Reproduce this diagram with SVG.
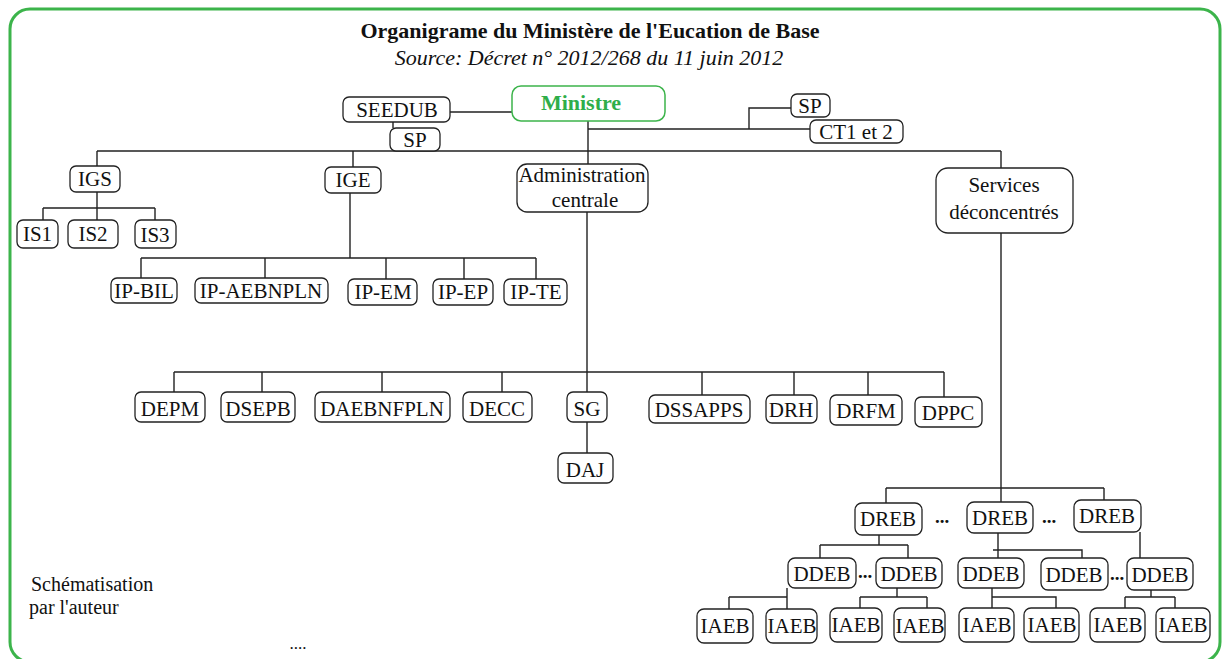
<svg xmlns="http://www.w3.org/2000/svg" width="1223" height="659" viewBox="0 0 1223 659">
<style>
text{font-family:'Liberation Serif','Times New Roman','DejaVu Serif',serif;fill:#111}
.b{fill:#fff;stroke:#222;stroke-width:1.3}
.t{font-size:21px;text-anchor:middle}
.c{fill:none;stroke:#222;stroke-width:1.4}
.d{font-size:19px;font-weight:bold;text-anchor:middle}
</style>
<rect x="0" y="0" width="1223" height="659" fill="#fff"/>
<rect x="10" y="9" width="1210" height="653" rx="20" fill="none" stroke="#3cb44b" stroke-width="3"/>
<text x="590" y="38" font-size="22" font-weight="bold" text-anchor="middle">Organigrame du Ministère de l'Eucation de Base</text>
<text x="589" y="65" font-size="22" font-style="italic" text-anchor="middle">Source: Décret n° 2012/268 du 11 juin 2012</text>
<g id="connectors" class="c">
<path d="M450 112H512M393 122V128M588 121V164M97 151H1001M588 129H810M749 129V108H791"/>
<path d="M97 151V166M353 151V167M1001 151V168"/>
<path d="M97 192V208M43 208H155M43 208V220M97 208V220M155 208V220"/>
<path d="M350 193V258M141 258H536M141 258V278M265 258V278M386 258V279M464 258V279M536 258V279"/>
<path d="M587 212V372M174 372H944M174 372V392M262 372V392M382 372V392M502 372V392M587 372V392M702 372V395M794 372V395M868 372V395M944 372V397M587 422V453"/>
<path d="M1001 233V488M886 488H1104M886 488V503M1001 488V502M1104 488V500"/>
<path d="M879 535V545M820 545H908M820 545V558M908 545V558M998 533V558M993 550H1082V558M1140 532V558"/>
<path d="M729 597H787M787 588V609M729 597V609M897 588V597M860 597H927M860 597V608M927 597V608M992 588V609M992 597H1056V608M1151 590V597M1125 597H1175M1125 597V609M1175 597V609"/>
</g>
<g id="ministre"><rect x="512" y="86" width="153" height="35" rx="9" fill="#fff" stroke="#3cb44b" stroke-width="1.5"/><text x="581" y="110" font-size="22" font-weight="bold" text-anchor="middle" style="fill:#2fae4a">Ministre</text></g>
<g id="seedub"><rect class="b" x="343" y="97" width="107" height="25" rx="6"/><text class="t" x="397" y="117">SEEDUB</text></g>
<g id="sp1"><rect class="b" x="390" y="128" width="50" height="23" rx="6"/><text class="t" x="415" y="147">SP</text></g>
<g id="sp2"><rect class="b" x="791" y="94" width="39" height="23" rx="6"/><text class="t" x="810" y="113">SP</text></g>
<g id="ct"><rect class="b" x="810" y="120" width="93" height="23" rx="6"/><text class="t" x="856" y="139">CT1 et 2</text></g>
<g id="igs"><rect class="b" x="70" y="166" width="50" height="26" rx="6"/><text class="t" x="95" y="186">IGS</text></g>
<g id="ige"><rect class="b" x="325" y="167" width="56" height="26" rx="6"/><text class="t" x="353" y="187">IGE</text></g>
<g id="admin"><rect class="b" x="517" y="164" width="131" height="48" rx="10"/><text class="t" x="582" y="182">Administration</text><text class="t" x="585" y="207">centrale</text></g>
<g id="services"><rect class="b" x="936" y="168" width="137" height="65" rx="12"/><text class="t" x="1004" y="192">Services</text><text class="t" x="1004" y="219">déconcentrés</text></g>
<g id="is1"><rect class="b" x="17" y="220" width="41" height="28" rx="6"/><text class="t" x="37.5" y="241">IS1</text></g>
<g id="is2"><rect class="b" x="68" y="220" width="50" height="28" rx="6"/><text class="t" x="93" y="241">IS2</text></g>
<g id="is3"><rect class="b" x="135" y="220" width="41" height="28" rx="6"/><text class="t" x="155" y="242">IS3</text></g>
<g id="ipbil"><rect class="b" x="111" y="278" width="66" height="25" rx="6"/><text class="t" x="144" y="298">IP-BIL</text></g>
<g id="ipaeb"><rect class="b" x="195" y="278" width="133" height="25" rx="6"/><text class="t" x="261" y="298">IP-AEBNPLN</text></g>
<g id="ipem"><rect class="b" x="348" y="279" width="69" height="26" rx="6"/><text class="t" x="383" y="299">IP-EM</text></g>
<g id="ipep"><rect class="b" x="433" y="279" width="60" height="26" rx="6"/><text class="t" x="463" y="299">IP-EP</text></g>
<g id="ipte"><rect class="b" x="504" y="279" width="63" height="26" rx="6"/><text class="t" x="536" y="299">IP-TE</text></g>
<g id="depm"><rect class="b" x="135" y="392" width="70" height="30" rx="6"/><text class="t" x="170" y="416">DEPM</text></g>
<g id="dsepb"><rect class="b" x="221" y="392" width="74" height="30" rx="6"/><text class="t" x="258" y="416">DSEPB</text></g>
<g id="daeb"><rect class="b" x="315" y="392" width="135" height="30" rx="6"/><text class="t" x="382" y="416">DAEBNFPLN</text></g>
<g id="decc"><rect class="b" x="463" y="392" width="69" height="30" rx="6"/><text class="t" x="497" y="416">DECC</text></g>
<g id="sg"><rect class="b" x="567" y="392" width="40" height="30" rx="6"/><text class="t" x="587" y="416">SG</text></g>
<g id="daj"><rect class="b" x="558" y="453" width="55" height="30" rx="6"/><text class="t" x="585" y="477">DAJ</text></g>
<g id="dssapps"><rect class="b" x="649" y="395" width="101" height="28" rx="6"/><text class="t" x="699" y="417" font-size="22">DSSAPPS</text></g>
<g id="drh"><rect class="b" x="766" y="395" width="51" height="28" rx="6"/><text class="t" x="791" y="417">DRH</text></g>
<g id="drfm"><rect class="b" x="830" y="395" width="72" height="30" rx="6"/><text class="t" x="866" y="418">DRFM</text></g>
<g id="dppc"><rect class="b" x="915" y="397" width="67" height="30" rx="6"/><text class="t" x="948" y="420">DPPC</text></g>
<g id="dreb1"><rect class="b" x="855" y="503" width="67" height="32" rx="7"/><text class="t" x="888" y="526">DREB</text></g>
<g id="dreb2"><rect class="b" x="967" y="502" width="66" height="31" rx="7"/><text class="t" x="1000" y="525">DREB</text></g>
<g id="dreb3"><rect class="b" x="1074" y="500" width="67" height="32" rx="7"/><text class="t" x="1107" y="523">DREB</text></g>
<g id="ddeb1"><rect class="b" x="788" y="558" width="68" height="30" rx="7"/><text class="t" x="822" y="581">DDEB</text></g>
<g id="ddeb2"><rect class="b" x="876" y="558" width="66" height="30" rx="7"/><text class="t" x="909" y="581">DDEB</text></g>
<g id="ddeb3"><rect class="b" x="958" y="558" width="66" height="30" rx="7"/><text class="t" x="991" y="581">DDEB</text></g>
<g id="ddeb4"><rect class="b" x="1041" y="558" width="67" height="32" rx="7"/><text class="t" x="1074" y="582">DDEB</text></g>
<g id="ddeb5"><rect class="b" x="1127" y="558" width="66" height="32" rx="7"/><text class="t" x="1160" y="582">DDEB</text></g>
<g id="iaeb1"><rect class="b" x="697" y="609" width="56" height="34" rx="7"/><text class="t" x="725" y="633">IAEB</text></g>
<g id="iaeb2"><rect class="b" x="766" y="609" width="51" height="34" rx="7"/><text class="t" x="792" y="633">IAEB</text></g>
<g id="iaeb3"><rect class="b" x="830" y="608" width="52" height="34" rx="7"/><text class="t" x="856" y="632">IAEB</text></g>
<g id="iaeb4"><rect class="b" x="894" y="608" width="51" height="34" rx="7"/><text class="t" x="920" y="633">IAEB</text></g>
<g id="iaeb5"><rect class="b" x="959" y="608" width="55" height="34" rx="7"/><text class="t" x="987" y="632">IAEB</text></g>
<g id="iaeb6"><rect class="b" x="1024" y="608" width="55" height="34" rx="7"/><text class="t" x="1052" y="632">IAEB</text></g>
<g id="iaeb7"><rect class="b" x="1090" y="608" width="55" height="34" rx="7"/><text class="t" x="1118" y="632">IAEB</text></g>
<g id="iaeb8"><rect class="b" x="1156" y="608" width="54" height="34" rx="7"/><text class="t" x="1183" y="632">IAEB</text></g>
<text class="d" x="942" y="523">...</text>
<text class="d" x="1049" y="523">...</text>
<text class="d" x="865" y="578">...</text>
<text class="d" x="1117" y="580">...</text>
<text x="298" y="649" font-size="17" text-anchor="middle">....</text>
<text x="31" y="591" font-size="20">Schématisation</text>
<text x="29" y="614" font-size="20">par l'auteur</text>
</svg>
